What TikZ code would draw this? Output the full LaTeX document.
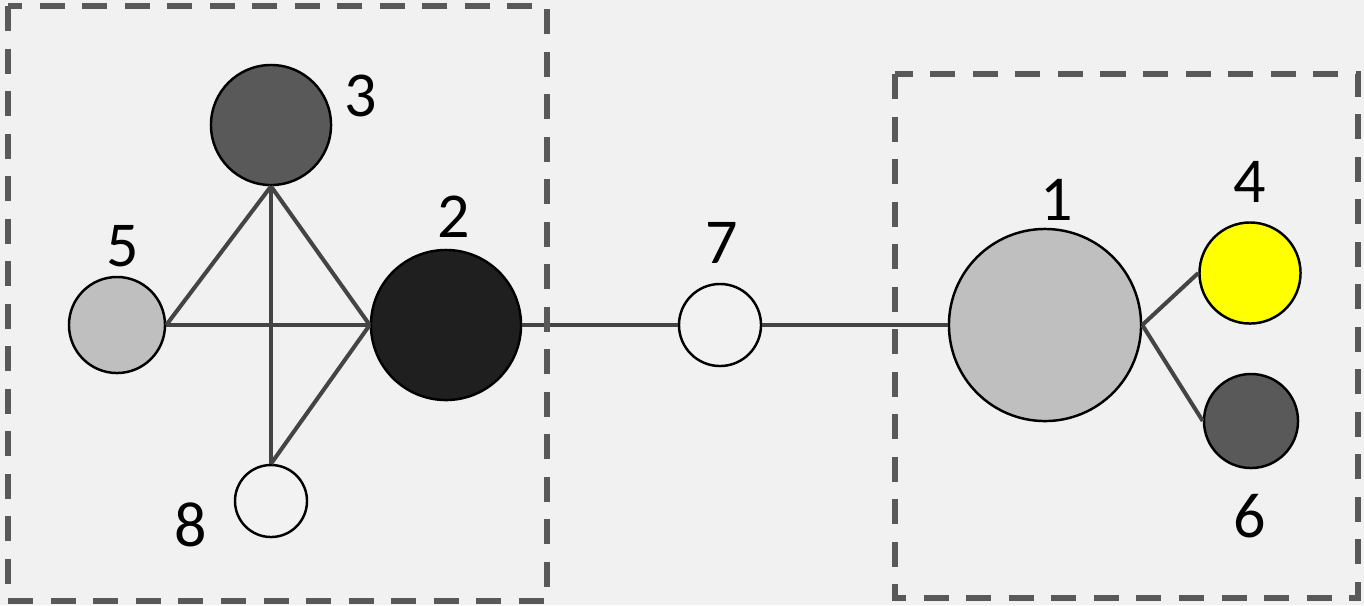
\documentclass[tikz,border=0pt]{standalone}
\usepackage{fontspec}
\setmainfont{Carlito}
\usetikzlibrary{positioning}
\definecolor{bggray}{HTML}{F1F1F1}
\definecolor{linkgray}{HTML}{444444}
\definecolor{boxgray}{HTML}{595959}
\definecolor{darkfill}{HTML}{595959}
\definecolor{blackfill}{HTML}{1F1F1F}
\definecolor{midfill}{HTML}{BFBFBF}
\definecolor{lightfill}{HTML}{F2F2F2}
\definecolor{yellowfill}{HTML}{FFFF00}
\tikzset{
  vertex/.style={
    shape = circle,
    draw = black,
    line width = 0.7pt,
    inner sep = 0pt
  },
  link/.style={
    draw = linkgray,
    line width = 1.15pt
  },
  cluster/.style={
    draw = boxgray,
    line width = 1.5pt,
    dash pattern = on 0.25cm off 0.175cm
  },
  num/.style={
    font = \fontsize{18.2}{22}\selectfont,
    inner sep = 0pt
  }
}

\begin{document}
\begin{tikzpicture}[x=0.01cm, y=-0.01cm]
    \fill[bggray] (0,0) rectangle (1364,605);
    \useasboundingbox (0,0) rectangle (1364,605);

    % left group
    \node[vertex, fill=darkfill, minimum size=1.20cm] (n3) at (271,125) {};
    \node[vertex, fill=midfill, minimum size=0.96cm] (n5) at (117,325) {};
    \node[vertex, fill=blackfill, minimum size=1.50cm] (n2) at (446,325) {};
    \node[vertex, fill=lightfill, minimum size=0.72cm] (n8) at (271,501) {};

    % middle
    \node[vertex, fill=lightfill, minimum size=0.82cm] (n7) at (720,325) {};

    % right group
    \node[vertex, fill=midfill, minimum size=1.92cm] (n1) at (1045,325) {};
    \node[vertex, fill=yellowfill, minimum size=1.01cm] (n4) at (1250,273) {};
    \node[vertex, fill=darkfill, minimum size=0.94cm] (n6) at (1251,421) {};

    \draw[link] (n3.south) -- (n5.east);
    \draw[link] (n3.south) -- (n2.west);
    \draw[link] (n3.south) -- (n8.north);
    \draw[link] (n5.east) -- (n2.west);
    \draw[link] (n8.north) -- (n2.west);
    \draw[link] (n2.east) -- (n7.west);
    \draw[link] (n7.east) -- (n1.west);
    \draw[link] (n1.east) -- (n4.west);
    \draw[link] (n1.east) -- (n6.west);

    \draw[cluster] (8,6) rectangle (547,601);
    \draw[cluster] (895,74) rectangle (1358,598);

    \node[num] (l3) at (361,96) {3};
    \node[num] (l5) at (123,246) {5};
    \node[num] (l2) at (454,217) {2};
    \node[num] (l8) at (191,525) {8};
    \node[num] (l7) at (722,243) {7};
    \node[num] (l1) at (1057,200) {1};
    \node[num] (l4) at (1250,182) {4};
    \node[num] (l6) at (1250,516) {6};
\end{tikzpicture}
\end{document}
